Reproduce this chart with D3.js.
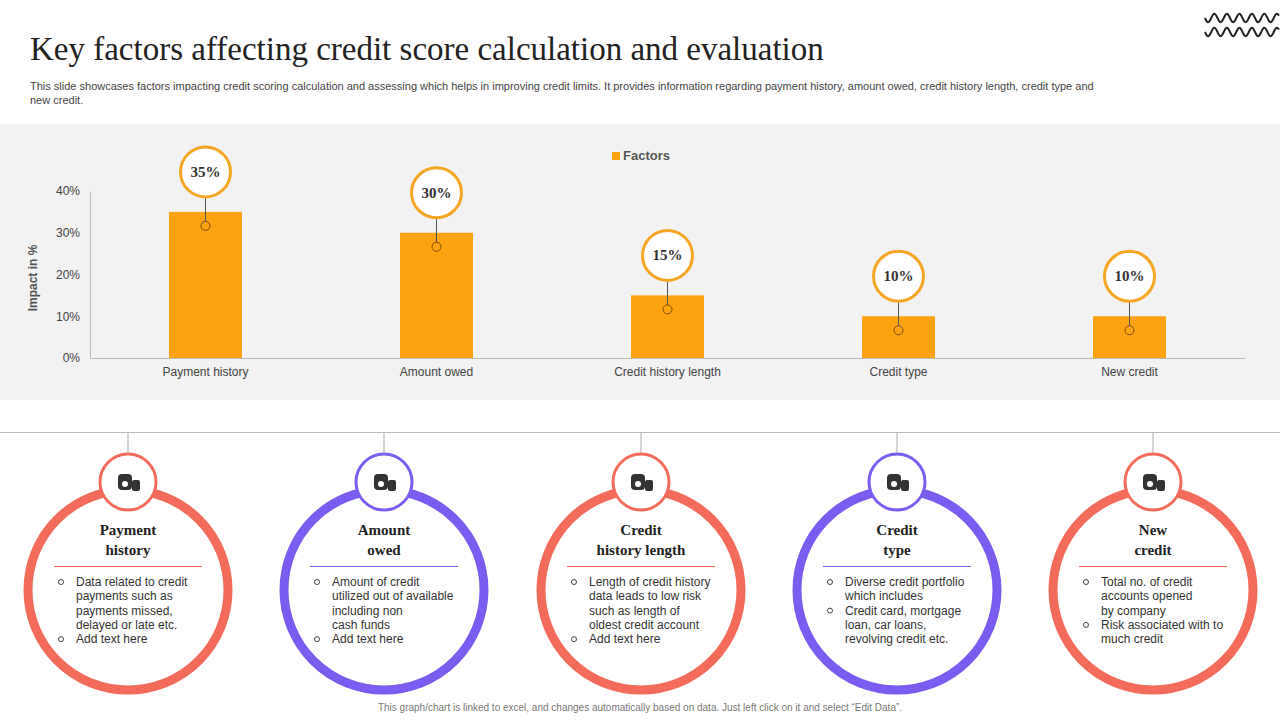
<!DOCTYPE html>
<meta charset="utf-8">
<style>
body { margin:0; background:#fff; }
svg { display:block; font-family: "Liberation Sans", Arial, sans-serif; }
</style>
<body>
<svg width="1280" height="720"></svg>
<script src="https://cdn.jsdelivr.net/npm/d3@7"></script>
<script>
var categories = ['Payment history', 'Amount owed', 'Credit history length', 'Credit type', 'New credit'];
var impact = [35, 30, 15, 10, 10];
var yTicks = [0, 10, 20, 30, 40];
var cardTitles = [['Payment', 'history'], ['Amount', 'owed'], ['Credit', 'history length'], ['Credit', 'type'], ['New', 'credit']];
var cardBullets = [
  [['Data related to credit', 'payments such as', 'payments missed,', 'delayed or late etc.'], ['Add text here']],
  [['Amount of credit', 'utilized out of available', 'including non', 'cash funds'], ['Add text here']],
  [['Length of credit history', 'data leads to low risk', 'such as length of', 'oldest credit account'], ['Add text here']],
  [['Diverse credit portfolio', 'which includes'], ['Credit card, mortgage', 'loan, car loans,', 'revolving credit etc.']],
  [['Total no. of credit', 'accounts opened', 'by company'], ['Risk associated with to', 'much credit']]
];
var cardColors = ['#f26b5b', '#7a5cf0', '#f26b5b', '#7a5cf0', '#f26b5b'];

var svg = d3.select('svg');
var orange = '#fca311';

// header
svg.append('text').attr('x', 30).attr('y', 60)
  .style('font-family', '"Liberation Serif", serif').style('font-size', '33px').attr('fill', '#222')
  .text('Key factors affecting credit score calculation and evaluation');
svg.append('text').attr('x', 30).attr('y', 90).style('font-size', '11px').attr('fill', '#444')
  .text('This slide showcases factors impacting credit scoring calculation and assessing which helps in improving credit limits. It provides information regarding payment history, amount owed, credit history length, credit type  and');
svg.append('text').attr('x', 30).attr('y', 104).style('font-size', '11px').attr('fill', '#444').text('new credit.');

// wave decoration
[18, 32].forEach(function(yy) {
  var pts = d3.range(0, 76, 2).map(function(t) { return [1205 + t, yy + 5 * Math.sin(t / 12.5 * Math.PI * 2 / 2 * 2 / 2 * 2)]; });
  svg.append('path').attr('d', d3.line().curve(d3.curveBasis)(pts)).attr('fill', 'none').attr('stroke', '#222').attr('stroke-width', 2);
});

// chart band
svg.append('rect').attr('x', 0).attr('y', 124).attr('width', 1280).attr('height', 276).attr('fill', '#f2f2f2');

var x = d3.scaleBand().domain(categories).range([90, 1245]).paddingInner(0.684).paddingOuter(0.342);
var y = d3.scaleLinear().domain([0, 40]).range([358, 191]);

var g = svg.append('g');
g.append('g').attr('transform', 'translate(0,358)')
  .call(d3.axisBottom(x).tickSize(0).tickPadding(9))
  .call(function(a) { a.select('.domain').attr('stroke', '#bbb'); a.selectAll('text').style('font-size', '12px').attr('fill', '#444'); });
g.append('g').attr('transform', 'translate(90,0)')
  .call(d3.axisLeft(y).tickValues(yTicks).tickSize(0).tickPadding(10).tickFormat(function(d) { return d + '%'; }))
  .call(function(a) { a.select('.domain').attr('stroke', '#bbb'); a.selectAll('text').style('font-size', '12px').attr('fill', '#444'); });
g.append('text').attr('transform', 'translate(37,278) rotate(-90)').attr('text-anchor', 'middle')
  .style('font-size', '12px').style('font-weight', 'bold').attr('fill', '#555').text('Impact in %');

// legend
g.append('rect').attr('x', 612).attr('y', 152).attr('width', 8).attr('height', 8).attr('fill', orange);
g.append('text').attr('x', 623).attr('y', 160).style('font-size', '13px').style('font-weight', 'bold').attr('fill', '#555').text('Factors');

var bars = g.selectAll('.bar').data(categories).enter().append('g');
bars.append('rect').attr('x', function(d) { return x(d); }).attr('width', x.bandwidth())
  .attr('y', function(d, i) { return y(impact[i]); }).attr('height', function(d, i) { return 358 - y(impact[i]); }).attr('fill', orange);
bars.append('line').attr('x1', function(d) { return x(d) + x.bandwidth() / 2; }).attr('x2', function(d) { return x(d) + x.bandwidth() / 2; })
  .attr('y1', function(d, i) { return y(impact[i]) - 14; }).attr('y2', function(d, i) { return y(impact[i]) + 10; }).attr('stroke', '#555');
bars.append('circle').attr('cx', function(d) { return x(d) + x.bandwidth() / 2; }).attr('cy', function(d, i) { return y(impact[i]) + 14; })
  .attr('r', 4.5).attr('fill', orange).attr('stroke', '#7a4a00').attr('stroke-width', 1);
bars.append('circle').attr('cx', function(d) { return x(d) + x.bandwidth() / 2; }).attr('cy', function(d, i) { return y(impact[i]) - 40; })
  .attr('r', 25).attr('fill', '#fff').attr('stroke', '#f5a623').attr('stroke-width', 3);
bars.append('text').attr('x', function(d) { return x(d) + x.bandwidth() / 2; }).attr('y', function(d, i) { return y(impact[i]) - 35; })
  .attr('text-anchor', 'middle').style('font-family', '"Liberation Serif", serif').style('font-size', '15px').style('font-weight', 'bold').attr('fill', '#333')
  .text(function(d, i) { return impact[i] + '%'; });

// cards
svg.append('line').attr('x1', 0).attr('x2', 1280).attr('y1', 432.5).attr('y2', 432.5).attr('stroke', '#bbb');
var cx = [128, 384, 641, 897, 1153];
cx.forEach(function(c, i) {
  var col = cardColors[i];
  var cg = svg.append('g');
  cg.append('line').attr('x1', c).attr('x2', c).attr('y1', 433).attr('y2', 454).attr('stroke', '#aaa');
  cg.append('circle').attr('cx', c).attr('cy', 590).attr('r', 100).attr('fill', '#fff').attr('stroke', col).attr('stroke-width', 9);
  cg.append('circle').attr('cx', c).attr('cy', 482).attr('r', 28).attr('fill', '#fff').attr('stroke', col).attr('stroke-width', 3);
  // simple icon
  var ic = cg.append('g').attr('fill', '#333');
  ic.append('rect').attr('x', c - 10).attr('y', 474).attr('width', 14).attr('height', 16).attr('rx', 4);
  ic.append('rect').attr('x', c + 4).attr('y', 480).attr('width', 8).attr('height', 11).attr('rx', 2);
  ic.append('circle').attr('cx', c - 3).attr('cy', 484).attr('r', 3).attr('fill', '#fff');
  cardTitles[i].forEach(function(t, k) {
    cg.append('text').attr('x', c).attr('y', 535 + k * 20).attr('text-anchor', 'middle')
      .style('font-family', '"Liberation Serif", serif').style('font-size', '15px').style('font-weight', 'bold').attr('fill', '#222').text(t);
  });
  cg.append('line').attr('x1', c - 74).attr('x2', c + 74).attr('y1', 566.5).attr('y2', 566.5).attr('stroke', col);
  var ly = 586;
  cardBullets[i].forEach(function(b) {
    cg.append('circle').attr('cx', c - 67).attr('cy', ly - 4).attr('r', 2.5).attr('fill', 'none').attr('stroke', '#444');
    b.forEach(function(line) {
      cg.append('text').attr('x', c - 52).attr('y', ly).style('font-size', '12px').attr('fill', '#333').text(line);
      ly += 14.3;
    });
  });
});

svg.append('text').attr('x', 640).attr('y', 711).attr('text-anchor', 'middle').style('font-size', '10px').attr('fill', '#777')
  .text('This graph/chart is linked to excel, and changes automatically based on data. Just left click on it and select \u201cEdit Data\u201d.');
</script>
</body>
